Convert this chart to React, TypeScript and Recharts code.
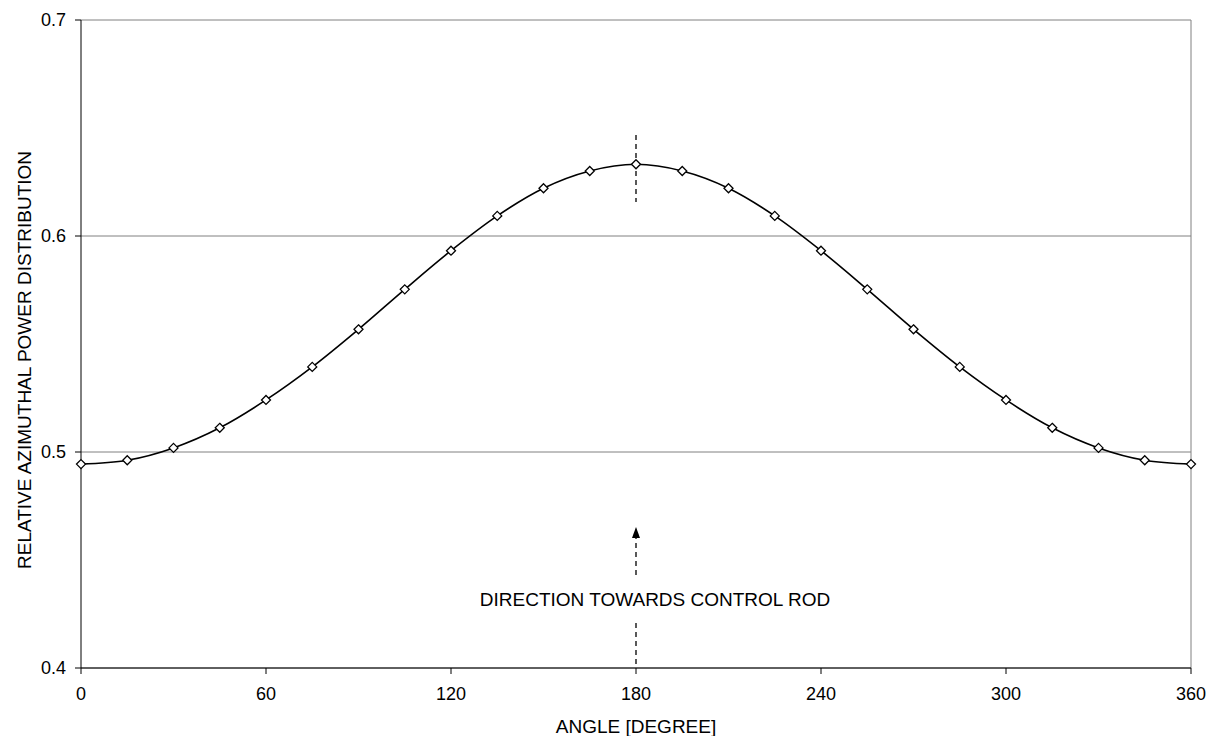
import { LineChart, Line, XAxis, YAxis, CartesianGrid, ReferenceLine, ReferenceDot } from "recharts"

// azimuthal angle [deg] and relative power
const angles = [0, 15, 30, 45, 60, 75, 90, 105, 120, 135, 150, 165, 180, 195, 210, 225, 240, 255, 270, 285, 300, 315, 330, 345, 360]
const power = [
  0.4944, 0.4962, 0.5019, 0.5112, 0.5241, 0.5394, 0.5568, 0.5753, 0.5932, 0.6093, 0.6221, 0.6301, 0.6332,
  0.6301, 0.6221, 0.6093, 0.5932, 0.5753, 0.5568, 0.5394, 0.5241, 0.5112, 0.5019, 0.4962, 0.4944,
]
const xTicks = [0, 60, 120, 180, 240, 300, 360]
const yTicks = [0.4, 0.5, 0.6, 0.7]

const data = angles.map((a, i) => ({ angle: a, power: power[i] }))

const FONT = "'Liberation Sans', Arial, sans-serif"

const Diamond = (props: any) => {
  const { cx, cy } = props
  if (cx == null || cy == null) return null
  const r = 4.5
  return (
    <polygon
      points={`${cx},${cy - r} ${cx + r},${cy} ${cx},${cy + r} ${cx - r},${cy}`}
      fill="#fff"
      stroke="#000"
      strokeWidth={1.3}
    />
  )
}

const ArrowHead = (props: any) => {
  const { cx, cy } = props
  return <polygon points={`${cx},${cy} ${cx + 4},${cy + 11} ${cx - 4},${cy + 11}`} fill="#000" />
}

const Note = (props: any) => {
  const { cx, cy } = props
  return (
    <text x={cx + 19} y={cy + 7} textAnchor="middle" fontFamily={FONT} fontSize={19} fill="#000">
      DIRECTION TOWARDS CONTROL ROD
    </text>
  )
}

// y title sits a bit below the plot's middle in the original
const YTitle = (props: any) => {
  const vb = props.viewBox || {}
  const x = 16
  const y = (vb.y ?? 0) + (vb.height ?? 0) / 2 + 16
  return (
    <text
      x={x}
      y={y}
      transform={`rotate(-90 ${x} ${y})`}
      textAnchor="middle"
      dominantBaseline="central"
      fontFamily={FONT}
      fontSize={19}
      fill="#000"
    >
      RELATIVE AZIMUTHAL POWER DISTRIBUTION
    </text>
  )
}

export default function App() {
  return (
    <div style={{ width: 1202, height: 728, background: "#fff" }}>
      <LineChart width={1202} height={728} data={data} margin={{ top: 12, right: 19, left: 0, bottom: 0 }}>
        <CartesianGrid vertical={false} stroke="#808080" strokeWidth={1} />
        <XAxis
          dataKey="angle"
          type="number"
          domain={[0, 360]}
          ticks={xTicks}
          height={68}
          stroke="#000"
          tickSize={6}
          tickMargin={13}
          tick={{ fill: "#000", fontSize: 18, fontFamily: FONT }}
          label={{ value: "ANGLE [DEGREE]", position: "insideBottom", offset: 3, fill: "#000", fontSize: 19, fontFamily: FONT }}
        />
        <YAxis
          type="number"
          domain={[0.4, 0.7]}
          ticks={yTicks}
          width={73}
          stroke="#000"
          tickSize={6}
          tickMargin={9}
          tickFormatter={(v: number) => v.toFixed(1)}
          tick={{ fill: "#000", fontSize: 18, fontFamily: FONT }}
          label={<YTitle />}
        />
        <ReferenceLine x={360} stroke="#808080" />
        <ReferenceLine segment={[{ x: 180, y: 0.6468 }, { x: 180, y: 0.6157 }]} stroke="#000" strokeWidth={1.3} strokeDasharray="5 4" />
        <ReferenceLine segment={[{ x: 180, y: 0.443 }, { x: 180, y: 0.462 }]} stroke="#000" strokeWidth={1.3} strokeDasharray="5 4" />
        <ReferenceLine segment={[{ x: 180, y: 0.4208 }, { x: 180, y: 0.4 }]} stroke="#000" strokeWidth={1.3} strokeDasharray="5 4" />
        <ReferenceDot x={180} y={0.4653} r={0} shape={ArrowHead} />
        <ReferenceDot x={180} y={0.4319} r={0} shape={Note} />
        <Line
          type="monotone"
          dataKey="power"
          stroke="#000"
          strokeWidth={1.6}
          dot={<Diamond />}
          activeDot={false}
          isAnimationActive={false}
        />
      </LineChart>
    </div>
  )
}
